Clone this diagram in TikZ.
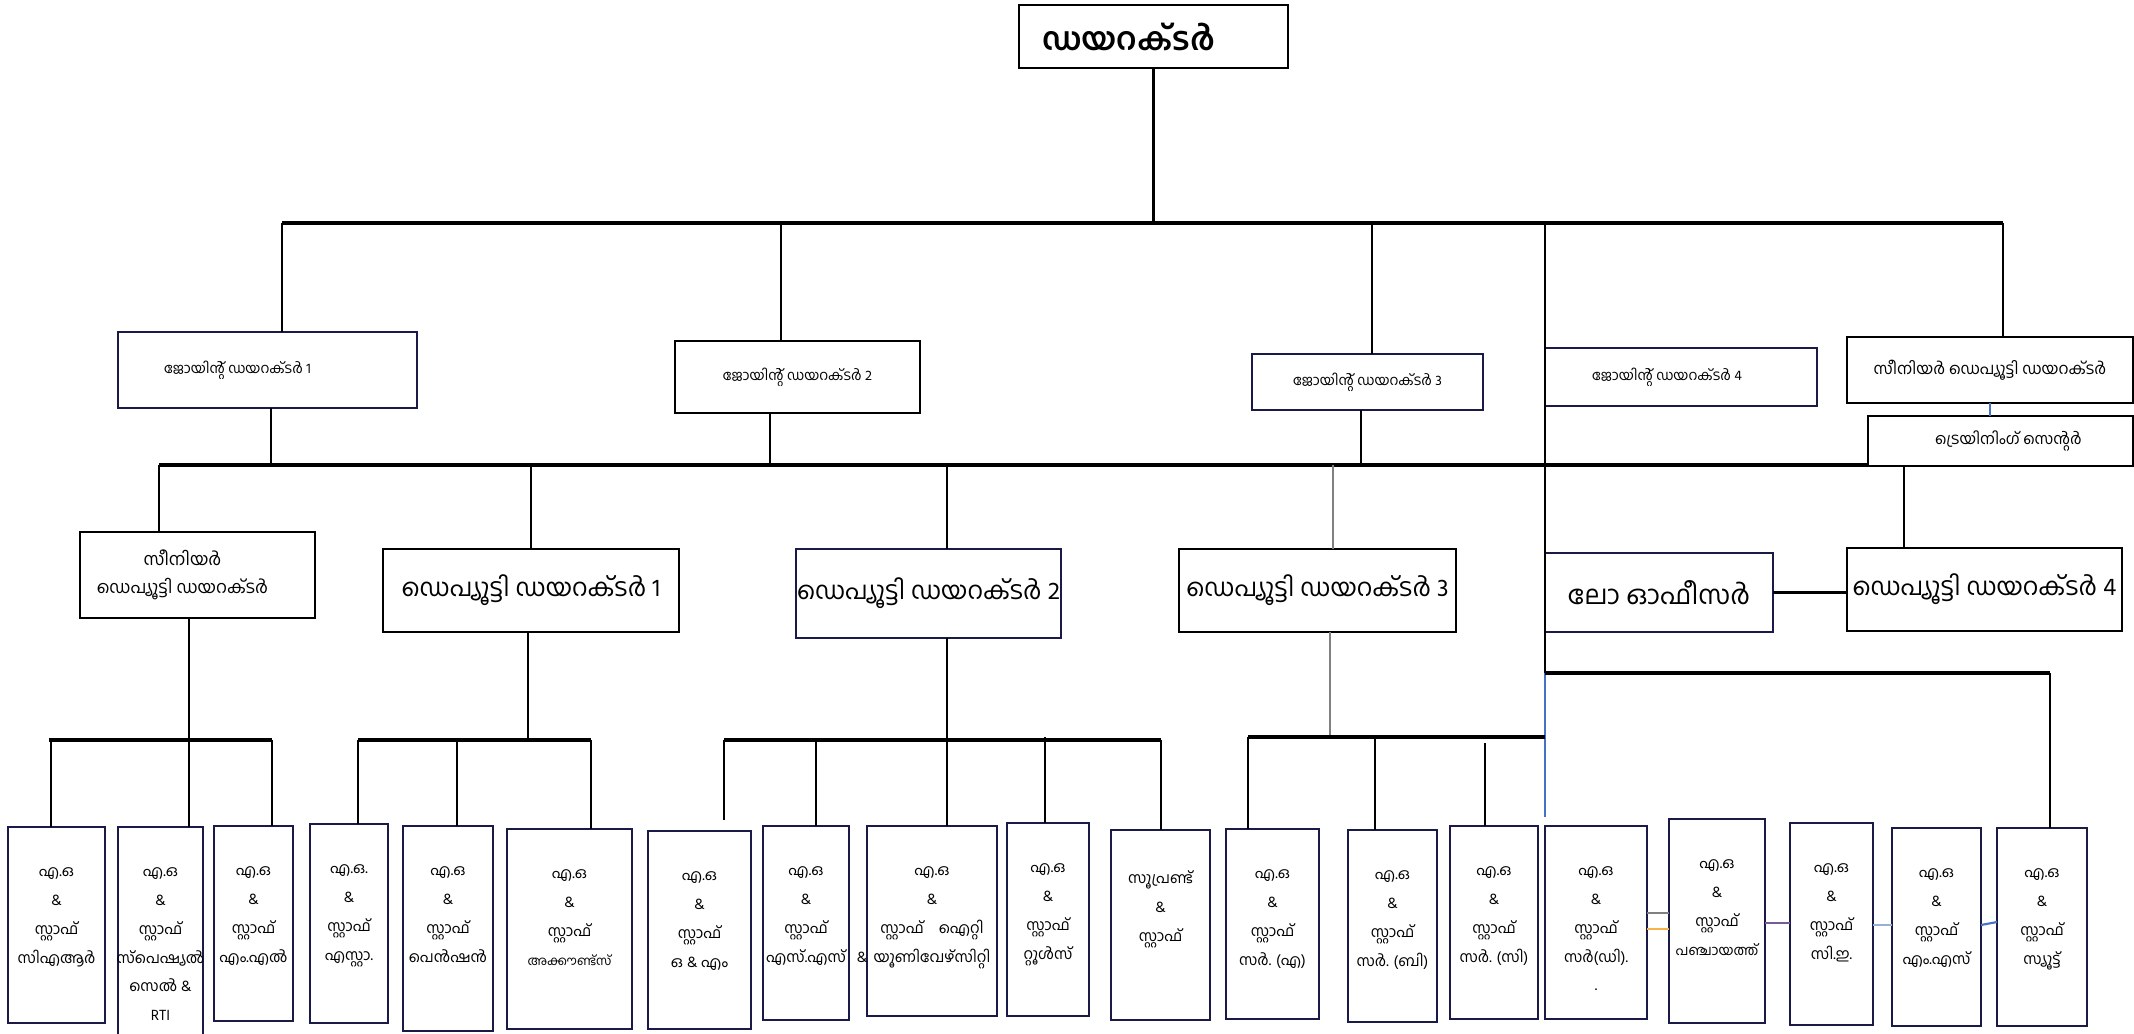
\documentclass[tikz,border=0pt]{standalone}
\usepackage{fontspec}
\usepackage{tikz}
\newfontfamily\mlfont[Script=Malayalam]{Hind Kochi}
\definecolor{navyline}{RGB}{26,26,72}
\definecolor{linkblue}{RGB}{68,114,196}
\definecolor{linkorange}{RGB}{247,178,72}
\definecolor{linkpurple}{RGB}{120,90,150}
\definecolor{linklight}{RGB}{150,175,215}
\definecolor{linkgray}{RGB}{128,128,128}
\newcommand{\orgbox}[7][]{\node[box,#1,minimum width={(#5-#3)*0.01cm},minimum height={(#6-#4)*0.01cm}] (#2) at ({(#3+#5)/2},{(#4+#6)/2}) {#7};}
\newcommand{\staffbox}[6]{\node[box,draw=navyline,minimum width={(#4-#2)*0.01cm},minimum height={(#5-#3)*0.01cm},label={[stafftext]north:{#6}}] (#1) at ({(#2+#4)/2},{(#3+#5)/2}) {};}
\tikzset{
  box/.style={draw, line width=0.8pt, inner sep=0pt, outer sep=0pt, align=center, font=\mlfont},
  jdtext/.style={font=\mlfont\fontsize{4}{5}\selectfont},
  ddtext/.style={font=\mlfont\fontsize{7}{9}\selectfont},
  stafftext/.style={anchor=north, yshift=-0.4cm, inner sep=0pt, align=center, font=\mlfont\fontsize{4.3}{8.2}\selectfont},
  link/.style={line width=0.6pt},
  bar/.style={line width=0.9pt},
  thinlink/.style={line width=0.3pt, linkgray},
}

\begin{document}
\begin{tikzpicture}[x=0.01cm,y=-0.01cm]
    \useasboundingbox (0,0) rectangle (2134,1033);

    \orgbox[font=\mlfont\bfseries\fontsize{9}{11}\selectfont]{dir}{1019}{5}{1288}{68}{ഡയറക്ടർ\hspace*{0.5cm}}

    \orgbox[jdtext,draw=navyline]{jd1}{118}{332}{417}{408}{ജോയിന്റ് ഡയറക്ടർ 1\hspace*{0.6cm}}
    \orgbox[jdtext]{jd2}{675}{341}{920}{413}{ജോയിന്റ് ഡയറക്ടർ 2}
    \orgbox[jdtext,draw=navyline]{jd3}{1252}{354}{1483}{410}{ജോയിന്റ് ഡയറക്ടർ 3}
    \orgbox[jdtext,draw=navyline]{jd4}{1545}{348}{1817}{406}{ജോയിന്റ് ഡയറക്ടർ 4\hspace*{0.28cm}}
    \orgbox[font=\mlfont\fontsize{4.5}{6}\selectfont]{sdd2}{1847}{337}{2133}{403}{സീനിയർ ഡെപ്യൂട്ടി ഡയറക്ടർ}
    \orgbox[font=\mlfont\fontsize{4.4}{6}\selectfont]{trc}{1868}{416}{2133}{466}{\hspace*{0.16cm}ട്രെയിനിംഗ് സെന്റർ}

    \orgbox[font=\mlfont\fontsize{4.9}{8}\selectfont]{sdd1}{80}{532}{315}{618}{സീനിയർ\hspace*{0.3cm}\\ ഡെപ്യൂട്ടി ഡയറക്ടർ\hspace*{0.3cm}}
    \orgbox[ddtext]{dd1}{383}{549}{679}{632}{ഡെപ്യൂട്ടി ഡയറക്ടർ 1}
    \orgbox[ddtext,draw=navyline]{dd2}{796}{549}{1061}{638}{ഡെപ്യൂട്ടി ഡയറക്ടർ 2}
    \orgbox[ddtext]{dd3}{1179}{549}{1456}{632}{ഡെപ്യൂട്ടി ഡയറക്ടർ 3}
    \orgbox[ddtext,font=\mlfont\fontsize{7.5}{9}\selectfont,draw=navyline]{law}{1545}{553}{1773}{632}{ലോ ഓഫീസർ}
    \orgbox[ddtext]{dd4}{1847}{548}{2122}{631}{ഡെപ്യൂട്ടി ഡയറക്ടർ 4}

    \staffbox{b1}{8}{827}{105}{1023}{എ.ഒ\\\&\\സ്റ്റാഫ്\\സിഎആർ}
    \staffbox{b2}{118}{827}{203}{1060}{എ.ഒ\\\&\\സ്റ്റാഫ്\\സ്പെഷ്യൽ\\സെൽ \&\\RTI}
    \staffbox{b3}{214}{826}{293}{1021}{എ.ഒ\\\&\\സ്റ്റാഫ്\\എം.എൽ}
    \staffbox{b4}{310}{824}{388}{1023}{എ.ഒ.\\\&\\സ്റ്റാഫ്\\എസ്റ്റാ.}
    \staffbox{b5}{403}{826}{493}{1031}{എ.ഒ\\\&\\സ്റ്റാഫ്\\പെൻഷൻ}
    \staffbox{b6}{507}{829}{632}{1029}{എ.ഒ\\\&\\സ്റ്റാഫ്\\{\fontsize{3.6}{8.2}\selectfont അക്കൗണ്ട്സ്}}
    \staffbox{b7}{648}{831}{751}{1029}{എ.ഒ\\\&\\സ്റ്റാഫ്\\ഒ \& എം}
    \staffbox{b8}{763}{826}{849}{1020}{എ.ഒ\\\&\\സ്റ്റാഫ്\\എസ്.എസ്}
    \staffbox{b9}{867}{826}{997}{1016}{എ.ഒ\\\&\\സ്റ്റാഫ്\quad ഐറ്റി\\യൂണിവേഴ്സിറ്റി}
    \staffbox{b10}{1007}{823}{1089}{1016}{എ.ഒ\\\&\\സ്റ്റാഫ്\\റ്റൂൾസ്}
    \staffbox{b11}{1111}{830}{1210}{1020}{സൂപ്രണ്ട്\\\&\\സ്റ്റാഫ്}
    \staffbox{b12}{1226}{829}{1319}{1019}{എ.ഒ\\\&\\സ്റ്റാഫ്\\സർ. (എ)}
    \staffbox{b13}{1348}{830}{1437}{1022}{എ.ഒ\\\&\\സ്റ്റാഫ്\\സർ. (ബി)}
    \staffbox{b14}{1450}{826}{1538}{1019}{എ.ഒ\\\&\\സ്റ്റാഫ്\\സർ. (സി)}
    \staffbox{b15}{1545}{826}{1647}{1019}{എ.ഒ\\\&\\സ്റ്റാഫ്\\സർ(ഡി).\\.}
    \staffbox{b16}{1669}{819}{1765}{1023}{എ.ഒ\\\&\\സ്റ്റാഫ്\\{\fontsize{4}{8.2}\selectfont പഞ്ചായത്ത്}}
    \staffbox{b17}{1790}{823}{1873}{1025}{എ.ഒ\\\&\\സ്റ്റാഫ്\\സി.ഇ.}
    \staffbox{b18}{1892}{828}{1981}{1026}{എ.ഒ\\\&\\സ്റ്റാഫ്\\എം.എസ്}
    \staffbox{b19}{1997}{828}{2087}{1026}{എ.ഒ\\\&\\സ്റ്റാഫ്\\സ്യൂട്ട്}
    \node[font=\mlfont\fontsize{4.3}{8.2}\selectfont] (amp) at (862,957) {\&};

    \draw[bar] (282,223) coordinate (a0) -- (2003,223) coordinate (a1);
    \draw[link] (dir.south) -- (dir.south |- a0);
    \foreach \n/\x in {jd1/282,jd2/781,jd3/1372,sdd2/2003}
        \draw[link] (\x,223) coordinate (up-\n) -- (up-\n |- \n.north);
    \draw[link] (1545,223) coordinate (lo) -- (1545,673) coordinate (e0);
    \draw[link,linkblue] (e0) -- ([yshift=0.09cm]e0 |- b15.north);
    \draw[bar] (e0) -- (2050,673) coordinate (e1);
    \draw[link] (e1) -- (e1 |- b19.north);

    \draw[bar] (159,465) coordinate (m0) -- (m0 -| trc.west);
    \foreach \n/\x in {jd1/271,jd2/770,jd3/1361}
        \draw[link] (\x,465) coordinate (mu-\n) -- (mu-\n |- \n.south);
    \foreach \n/\x in {sdd1/159,dd1/531,dd2/947}
        \draw[link] (\x,465) coordinate (md-\n) -- (md-\n |- \n.north);
    \draw[thinlink] (1333,465) coordinate (md-dd3) -- (md-dd3 |- dd3.north);
    \draw[link,linkblue] (sdd2.south) -- (sdd2.south |- trc.north);
    \draw[link] (1904,466) coordinate (tr) -- (tr |- dd4.north);
    \draw[link] (law.east) -- (law.east -| dd4.west);

    \draw[link] (189,740) coordinate (s1) -- (s1 |- sdd1.south);
    \draw[bar] (49,740) -- (272,740);
    \draw[link] (528,740) coordinate (s2) -- (s2 |- dd1.south);
    \draw[bar] (358,740) -- (591,740);
    \draw[link] (947,740) coordinate (s3) -- (s3 |- dd2.south);
    \draw[bar] (724,740) -- (1161,740);
    \draw[thinlink] (1330,737) coordinate (s4) -- (s4 |- dd3.south);
    \draw[bar] (1248,737) -- (1545,737);
    \foreach \n/\x in {b1/51,b2/189,b3/272,b4/358,b5/457,b6/591,b8/816,b9/947,b11/1161}
        \draw[link] (\x,740) coordinate (d-\n) -- (d-\n |- \n.north);
    \draw[link] (724,740) coordinate (d-b7) -- ([yshift=0.11cm]d-b7 |- b7.north);
    \draw[link] (1045,737) coordinate (d-b10) -- (d-b10 |- b10.north);
    \foreach \n/\x in {b12/1248,b13/1375}
        \draw[link] (\x,737) coordinate (d-\n) -- (d-\n |- \n.north);
    \draw[link] (1485,743) coordinate (d-b14) -- (d-b14 |- b14.north);

    \draw[link,linkgray] ([yshift=0.095cm]b15.east) -- ([yshift=0.095cm]b15.east -| b16.west);
    \draw[link,linkorange] ([yshift=-0.065cm]b15.east) -- ([yshift=-0.065cm]b15.east -| b16.west);
    \draw[link,linkpurple] ([yshift=-0.02cm]b16.east) -- ([yshift=-0.02cm]b16.east -| b17.west);
    \draw[link,linklight] ([yshift=-0.01cm]b17.east) -- ([yshift=-0.01cm]b17.east -| b18.west);
    \draw[link,linkblue] ([yshift=0.02cm]b18.east) -- ([yshift=0.05cm]b19.west);
\end{tikzpicture}
\end{document}
